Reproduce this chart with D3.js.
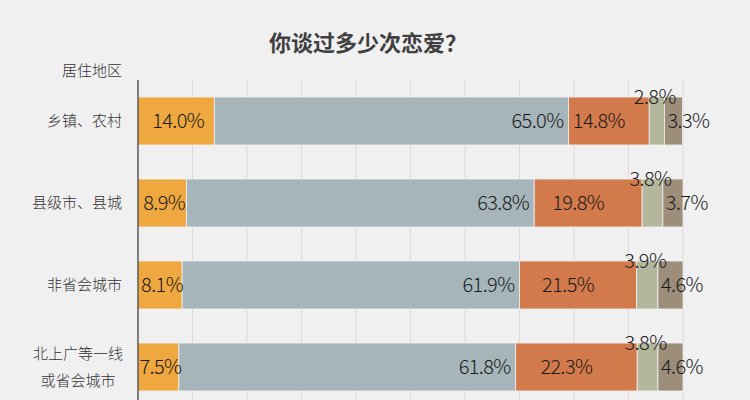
<!DOCTYPE html>
<html><head><meta charset="utf-8">
<script src="https://cdn.jsdelivr.net/npm/d3@7"></script>
<style>
html,body{margin:0;padding:0;background:#f0f0f0;}
svg{display:block;font-family:"Noto Sans CJK SC","Noto Sans",sans-serif;}
</style></head>
<body>
<svg id="chart" width="750" height="400"></svg>
<script>
const title = "你谈过多少次恋爱？";
const axisTitle = "居住地区";
const categories = ["乡镇、农村", "县级市、县城", "非省会城市", "北上广等一线\n或省会城市"];
const seriesNames = ["s1", "s2", "s3", "s4", "s5"];
const s1 = [14.0, 8.9, 8.1, 7.5];
const s2 = [65.0, 63.8, 61.9, 61.8];
const s3 = [14.8, 19.8, 21.5, 22.3];
const s4 = [2.8, 3.8, 3.9, 3.8];
const s5 = [3.3, 3.7, 4.6, 4.6];
const colors = ["#efa73f", "#a5b5b9", "#d27a4b", "#b3b89d", "#9d8e7a"];
const xTicks = [0, 10, 20, 30, 40, 50, 60, 70, 80, 90, 100];

const series = [s1, s2, s3, s4, s5];
const svg = d3.select("#chart");
const W = 750, H = 400;
const x = d3.scaleLinear().domain([0, 100]).range([138, 683]);
const y = d3.scaleBand().domain(categories).range([80, 408]).paddingInner(0.415).paddingOuter(0.2075);

svg.append("rect").attr("width", W).attr("height", H).attr("fill", "#f0f0f0");

// gridlines
svg.append("g").selectAll("line").data(xTicks.slice(1)).join("line")
  .attr("x1", d => x(d)).attr("x2", d => x(d))
  .attr("y1", 80).attr("y2", H)
  .attr("stroke", "#dadada").attr("stroke-width", 1);

// stacked data
const rows = categories.map((c, i) => {
  let acc = 0;
  return series.map((s, k) => {
    const seg = {cat: c, k, v: s[i], x0: acc, x1: acc + s[i]};
    acc += s[i];
    return seg;
  });
});
const segs = rows.flat();

svg.append("g").selectAll("rect").data(segs).join("rect")
  .attr("x", d => x(d.x0)).attr("width", d => x(d.x1) - x(d.x0))
  .attr("y", d => y(d.cat)).attr("height", y.bandwidth())
  .attr("fill", d => colors[d.k])
  .attr("stroke", "#f0f0f0").attr("stroke-width", 0.8);

// axis line
svg.append("line").attr("x1", x(0)).attr("x2", x(0)).attr("y1", 80).attr("y2", H)
  .attr("stroke", "#333").attr("stroke-width", 1.2);

// value labels
const fmt = d => d.v.toFixed(1) + "%";
const lbl = svg.append("g").attr("font-size", 20).attr("fill", "#1a1a1a")
  .attr("font-family", "'Noto Sans CJK SC','Noto Sans',sans-serif").attr("font-weight", 300)
  .attr("letter-spacing", -0.6);
segs.forEach(d => {
  const yc = y(d.cat) + y.bandwidth() / 2;
  let tx, ty = yc, anchor = "middle";
  if (d.k === 0) { tx = (x(d.x0) + x(d.x1)) / 2 + 2; }
  else if (d.k === 1) { tx = x(d.x1) - 5; anchor = "end"; }
  else if (d.k === 2) { tx = (x(d.x0) + x(d.x1)) / 2 - 10; }
  else if (d.k === 3) { tx = (x(d.x0) + x(d.x1)) / 2 - 2; ty = y(d.cat); }
  else { tx = x(d.x0) + 3; anchor = "start"; }
  lbl.append("text").attr("x", tx).attr("y", ty).attr("dy", "0.36em")
    .attr("text-anchor", anchor).text(fmt(d));
});

// category labels
const catG = svg.append("g").attr("font-size", 15).attr("fill", "#333").attr("font-weight", 300);
categories.forEach(c => {
  const lines = c.split("\n");
  const yc = y(c) + y.bandwidth() / 2;
  if (lines.length === 1) {
    catG.append("text").attr("x", 122).attr("y", yc).attr("dy", "0.35em")
      .attr("text-anchor", "end").text(c);
  } else {
    const t = catG.append("text").attr("text-anchor", "middle");
    const lh = 27;
    lines.forEach((ln, j) => {
      t.append("tspan").attr("y", yc + (j - (lines.length - 1) / 2) * lh).attr("dy", "0.35em").text(ln);
    });
    let maxW = 0;
    t.selectAll("tspan").each(function(){ maxW = Math.max(maxW, this.getComputedTextLength()); });
    t.selectAll("tspan").attr("x", 123 - maxW / 2);
  }
});

// axis title
svg.append("text").attr("x", 122).attr("y", 71).attr("dy", "0.35em").attr("font-weight", 300)
  .attr("text-anchor", "end").attr("font-size", 15).attr("fill", "#333").text(axisTitle);

// chart title
svg.append("text").attr("x", 368).attr("y", 43).attr("dy", "0.35em")
  .attr("text-anchor", "middle").attr("font-size", 22).attr("font-weight", "bold")
  .attr("fill", "#404040").text(title);
</script>
</body></html>
